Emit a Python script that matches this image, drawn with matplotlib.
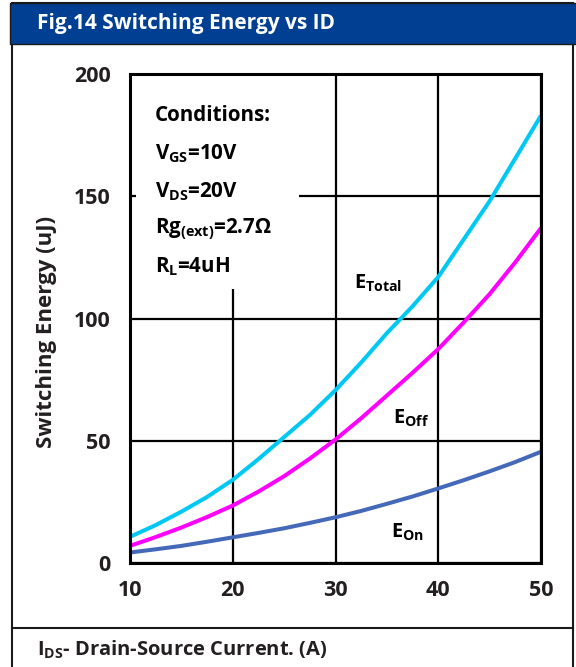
import matplotlib
matplotlib.use("Agg")
import matplotlib.pyplot as plt
from matplotlib.patches import Rectangle

FONT = 'Open Sans'
plt.rcParams['font.family'] = [FONT, 'DejaVu Sans']
plt.rcParams['font.weight'] = 'bold'
plt.rcParams['mathtext.fontset'] = 'custom'
plt.rcParams['mathtext.rm'] = FONT + ':bold'
plt.rcParams['mathtext.it'] = FONT + ':bold'
plt.rcParams['mathtext.bf'] = FONT + ':bold'

current = [10, 12.5, 15, 17.5, 20, 22.5, 25, 27.5, 30, 32.5, 35, 37.5, 40, 42.5, 45, 47.5, 50]
e_total = [10.7, 15.5, 21, 27, 34, 42.5, 51.5, 60.5, 70.7, 82, 94, 105, 117, 132.5, 148, 165.5, 183]
e_off = [7, 10.6, 14.5, 18.8, 23.5, 29.2, 35.5, 42.7, 50.5, 59.2, 68.5, 77.8, 87.5, 98.5, 110, 123, 137]
e_on = [4.3, 5.6, 7, 8.7, 10.5, 12.3, 14.2, 16.4, 18.7, 21.3, 24.2, 27.2, 30.5, 33.9, 37.5, 41.3, 45.5]
x_ticks = [10, 20, 30, 40, 50]
y_ticks = [0, 50, 100, 150, 200]

title = "Fig.14 Switching Energy vs ID"
ylabel = "Switching Energy (uJ)"
xlabel = r"I$_{DS}$- Drain-Source Current. (A)"
conditions = ["Conditions:", r"V$_{GS}$=10V", r"V$_{DS}$=20V",
              r"Rg$_{(ext)}$=2.7Ω", r"R$_{L}$=4uH"]

TXT = '#231f20'
W, H = 576, 667
fig = plt.figure(figsize=(W / 100, H / 100), dpi=100)

def fx(px):
    return px / W

def fy(py):
    return 1 - py / H

# outer frame and title bar
fig.add_artist(Rectangle((fx(12), fy(700)), fx(573) - fx(12), fy(3) - fy(700),
                         transform=fig.transFigure, facecolor='white',
                         edgecolor='#1a1a1a', lw=1.5, zorder=0))
fig.add_artist(Rectangle((fx(10), fy(44)), fx(580) - fx(10), fy(3) - fy(44),
                         transform=fig.transFigure, facecolor='#003f91',
                         edgecolor='#1a1a1a', lw=1.0, zorder=1))
fig.text(fx(37), fy(24), title, color='white', fontsize=15, fontweight='bold',
         va='center', ha='left')
fig.add_artist(plt.Line2D([fx(12), fx(573)], [fy(628), fy(628)],
                          transform=fig.transFigure, color='#1a1a1a', lw=1.5))
fig.text(fx(37), fy(650), xlabel, color=TXT, fontsize=14.5, fontweight='bold',
         va='center', ha='left')

ax = fig.add_axes([fx(130), fy(563), fx(541) - fx(130), fy(74) - fy(563)])
ax.set_xlim(10, 50)
ax.set_ylim(0, 200)
ax.set_xticks(x_ticks)
ax.set_yticks(y_ticks)
ax.tick_params(axis='both', labelsize=15.5, length=0, pad=12, labelcolor=TXT)
ax.tick_params(axis='y', pad=14)
for lab in ax.get_xticklabels() + ax.get_yticklabels():
    lab.set_fontweight('bold')
ax.grid(True, color='black', lw=1.6)
ax.set_axisbelow(True)
for s in ax.spines.values():
    s.set_linewidth(2.2)
    s.set_color('black')
    s.set_zorder(5)

ax.plot(current, e_total, color='#00c8f5', lw=2.9, zorder=3, solid_capstyle='butt')
ax.plot(current, e_off, color='#ff00ff', lw=2.9, zorder=3, solid_capstyle='butt')
ax.plot(current, e_on, color='#4569b9', lw=2.9, zorder=3, solid_capstyle='butt')

fig.text(fx(47), fy(332), ylabel, rotation=90, fontsize=16, fontweight='bold',
         color=TXT, va='center', ha='center')

# conditions box
ax.add_patch(Rectangle((10.6, 112), 26.4 - 10.6, 87.5, facecolor='white',
                       edgecolor='none', zorder=2))
ys = [183, 167.5, 152, 136.5, 121]
for t, yv in zip(conditions, ys):
    ax.text(12.4, yv, t, fontsize=14.8, fontweight='bold', va='center',
            ha='left', zorder=4, color='black')

ax.text(31.8, 112, r"E$_{Total}$", fontsize=14.5, fontweight='bold', zorder=4)
ax.text(35.6, 57, r"E$_{Off}$", fontsize=14.5, fontweight='bold', zorder=4)
ax.text(35.4, 10.5, r"E$_{On}$", fontsize=14.5, fontweight='bold', zorder=4)

fig.savefig("out.png", dpi=100)
